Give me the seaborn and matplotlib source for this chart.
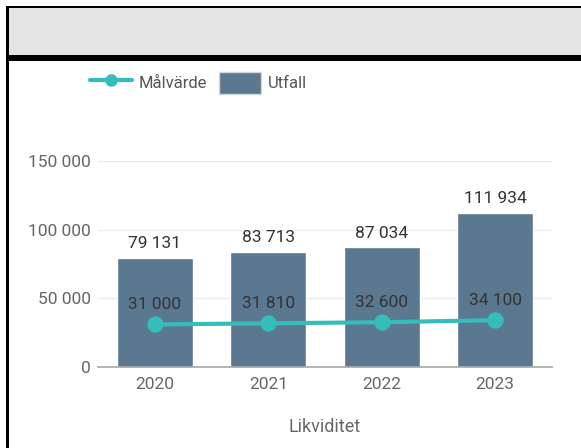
import matplotlib
matplotlib.use("Agg")
import matplotlib.pyplot as plt
import seaborn as sns
import pandas as pd
from matplotlib.patches import Rectangle, Patch
from matplotlib.lines import Line2D

years = ["2020", "2021", "2022", "2023"]
utfall = [79131, 83713, 87034, 111934]
malvarde = [31000, 31810, 32600, 34100]
yticks = [0, 50000, 100000, 150000]
xlabel = "Likviditet"
legend_labels = ["Målvärde", "Utfall"]

BAR = "#5b7891"
LINE = "#36bdbb"

def fmt(v):
    return f"{v:,}".replace(",", " ")

sns.set_theme(style="white")
plt.rcParams["font.family"] = ["Roboto", "DejaVu Sans"]

fig = plt.figure(figsize=(5.81, 4.48), dpi=100)
W, H = 581, 448

def fr(x, y, w, h, color):
    fig.add_artist(Rectangle((x / W, 1 - (y + h) / H), w / W, h / H,
                             transform=fig.transFigure, facecolor=color,
                             edgecolor="none", zorder=0))

fr(7, 8, 574, 48, "#e4e4e4")
fr(6, 6, 575, 2.5, "#000000")
fr(6, 6, 2.5, 442, "#000000")
fr(6, 55.5, 575, 5.5, "#000000")

ax = fig.add_axes([98 / W, 1 - 367 / H, 454 / W, 206 / H])
df = pd.DataFrame({"year": years, "utfall": utfall, "malvarde": malvarde})

sns.barplot(data=df, x="year", y="utfall", color=BAR, width=0.67,
            saturation=1, ax=ax, zorder=2)
sns.pointplot(data=df, x="year", y="malvarde", color=LINE, ax=ax,
              markers="o", markersize=9.5, linewidth=3, zorder=4)

for i, v in enumerate(utfall):
    ax.annotate(fmt(v), (i, v), xytext=(0, 5), textcoords="offset points",
                ha="center", va="bottom", fontsize=12.5, color="#333333",
                annotation_clip=False)
for i, v in enumerate(malvarde):
    ax.annotate(fmt(v), (i, v), xytext=(0, 9), textcoords="offset points",
                ha="center", va="bottom", fontsize=12.5, color="#333333",
                annotation_clip=False, zorder=5)

ax.set_ylim(0, 150000)
ax.set_xlim(-0.5, 3.5)
ax.set_yticks(yticks)
ax.set_yticklabels([fmt(t) for t in yticks])
ax.yaxis.grid(True, color="#e8ecef", linewidth=1, zorder=0)
ax.set_axisbelow(True)
for s in ["top", "right", "left"]:
    ax.spines[s].set_visible(False)
ax.spines["bottom"].set_color("#aaaaaa")
ax.spines["bottom"].set_zorder(5)
ax.tick_params(axis="both", length=0, labelsize=12.5, labelcolor="#666666")
ax.tick_params(axis="y", pad=5)
ax.tick_params(axis="x", pad=7)
ax.set_ylabel("")
ax.set_xlabel(xlabel, fontsize=13, color="#666666", labelpad=19)

handles = [Line2D([0], [0], color=LINE, lw=3, marker="o", markersize=8),
           Patch(facecolor=BAR, edgecolor="#d0d8de")]
fig.legend(handles, legend_labels, loc="center left",
           bbox_to_anchor=(75 / W, 1 - 83 / H), ncol=2, frameon=False,
           fontsize=12, labelcolor="#555555", handlelength=2.5,
           handleheight=1.7, columnspacing=0.75, handletextpad=0.4)

fig.savefig("out.png", dpi=100)
